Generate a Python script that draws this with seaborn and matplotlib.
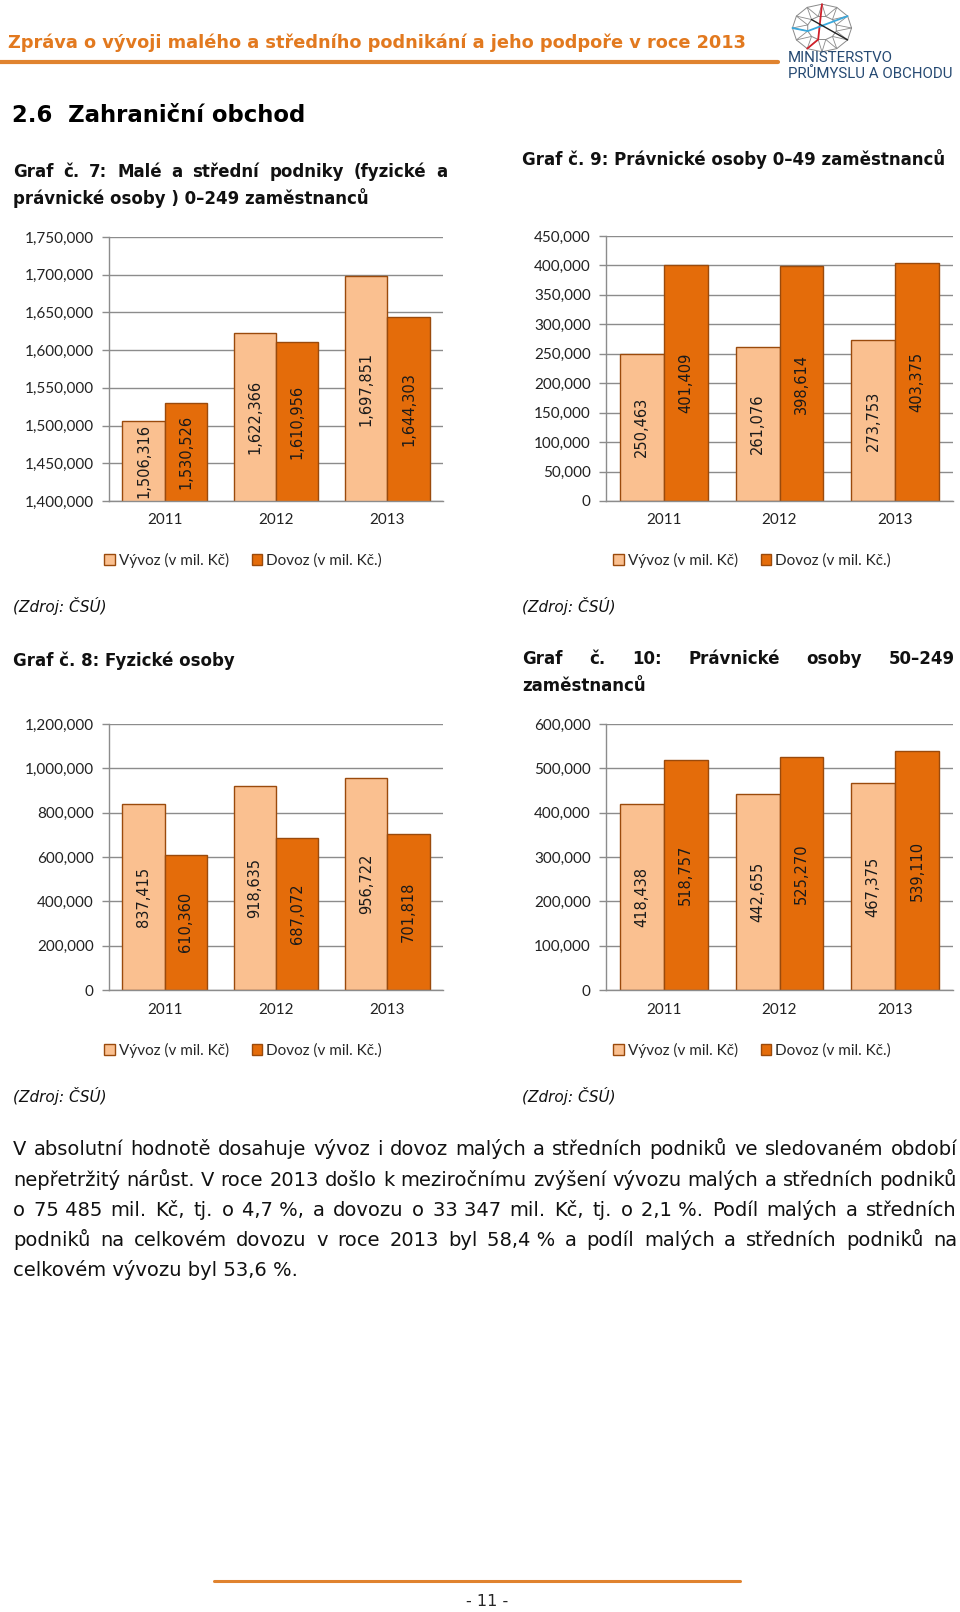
import numpy as np
import pandas as pd
import seaborn as sns
import matplotlib.pyplot as plt
from matplotlib.patches import Patch
from matplotlib.lines import Line2D
from matplotlib.ticker import FuncFormatter, MultipleLocator

W, H = 960, 1612

# data
years = ['2011', '2012', '2013']
series = ['Vývoz (v mil. Kč)', 'Dovoz (v mil. Kč.)']

vyvoz_g7 = [1506316, 1622366, 1697851]
dovoz_g7 = [1530526, 1610956, 1644303]
vyvoz_g8 = [837415, 918635, 956722]
dovoz_g8 = [610360, 687072, 701818]
vyvoz_g9 = [250463, 261076, 273753]
dovoz_g9 = [401409, 398614, 403375]
vyvoz_g10 = [418438, 442655, 467375]
dovoz_g10 = [518757, 525270, 539110]

body_lines = [
    'V absolutní hodnotě dosahuje vývoz i dovoz malých a středních podniků ve sledovaném období',
    'nepřetržitý nárůst. V roce 2013 došlo k meziročnímu zvýšení vývozu malých a středních podniků',
    'o 75\u00a0485 mil. Kč, tj. o 4,7\u00a0%, a dovozu o 33\u00a0347 mil. Kč, tj. o 2,1\u00a0%. Podíl malých a středních',
    'podniků na celkovém dovozu v roce 2013 byl 58,4\u00a0% a podíl malých a středních podniků na',
    'celkovém vývozu byl 53,6\u00a0%.',
]

sns.set_theme(style='white')
plt.rcParams['font.family'] = ['Lato', 'DejaVu Sans']

LIGHT = '#FAC090'
DARK = '#E46C0A'
EDGE = '#9A4A0C'
GRID = '#8C8C8C'
ORANGE = '#E2791F'
VERD = 'DejaVu Sans'

fig = plt.figure(figsize=(W / 100, H / 100), dpi=100)
renderer = fig.canvas.get_renderer()


def fx(x):
    return x / W


def fy(y):
    return 1 - y / H


def justify(line, x0, x1, y, **kw):
    # y = baseline v pixelech
    words = line.split(' ')
    texts = [fig.text(0, fy(y), w, va='baseline', ha='left', **kw) for w in words]
    widths = [t.get_window_extent(renderer).width for t in texts]
    gap = (x1 - x0 - sum(widths)) / (len(words) - 1)
    x = x0
    for t, w in zip(texts, widths):
        t.set_x(fx(x))
        x += w + gap


def chart(box, vyv, dov, ylim, step):
    x0, y0, x1, y1 = box
    ax = fig.add_axes([fx(x0), fy(y1), (x1 - x0) / W, (y1 - y0) / H])
    df = pd.DataFrame({'rok': years * 2,
                       'typ': [series[0]] * 3 + [series[1]] * 3,
                       'hodnota': vyv + dov})
    sns.barplot(data=df, x='rok', y='hodnota', hue='typ', palette=[LIGHT, DARK],
                saturation=1, edgecolor=EDGE, linewidth=1.0, width=0.76, gap=0,
                legend=False, ax=ax, zorder=2)
    ax.set_xlim(-0.5, 2.5)
    ax.set_ylim(*ylim)
    ax.set_xlabel('')
    ax.set_ylabel('')
    ax.yaxis.set_major_locator(MultipleLocator(step))
    ax.yaxis.set_major_formatter(FuncFormatter(lambda v, p: f'{v:,.0f}'))
    ax.grid(axis='y', color=GRID, lw=1.0)
    ax.set_axisbelow(True)
    for s in ['top', 'right']:
        ax.spines[s].set_visible(False)
    for s in ['left', 'bottom']:
        ax.spines[s].set_color(GRID)
        ax.spines[s].set_linewidth(1.0)
    ax.set_xticks([-0.5, 0.5, 1.5, 2.5], labels=[''] * 4)
    ax.set_xticks([0, 1, 2], labels=years, minor=True)
    ax.tick_params(axis='x', which='major', direction='out', length=5, width=1, color=GRID)
    ax.tick_params(axis='x', which='minor', length=0, pad=9, labelsize=11, labelcolor='#222222')
    ax.tick_params(axis='y', direction='out', length=5, width=1, color=GRID, pad=6,
                   labelsize=11, labelcolor='#222222', left=True)
    # popisky hodnot uprostred viditelne casti sloupce
    for bar in ax.patches:
        h = bar.get_height()
        if not np.isfinite(h) or h <= 0:
            continue
        lo = max(ylim[0], bar.get_y())
        ax.text(bar.get_x() + bar.get_width() / 2, (lo + bar.get_y() + h) / 2, f'{h:,.0f}',
                rotation=90, ha='center', va='center', fontsize=10.5, family=VERD,
                color='#1a1a1a', zorder=3)
    return ax


def legend(cx, cy):
    handles = [Patch(facecolor=LIGHT, edgecolor=EDGE, lw=1.0),
               Patch(facecolor=DARK, edgecolor=EDGE, lw=1.0)]
    fig.legend(handles, series, loc='center', bbox_to_anchor=(fx(cx), fy(cy)), ncol=2,
               frameon=False, fontsize=11, handlelength=0.7, handleheight=0.7,
               handletextpad=0.25, columnspacing=1.5, borderpad=0)


# header
fig.text(fx(8), fy(43), 'Zpráva o vývoji malého a středního podnikání a jeho podpoře v roce 2013',
         family=VERD, fontweight='bold', fontsize=12.8, color=ORANGE, va='center')
fig.add_artist(Line2D([fx(0), fx(778)], [fy(62), fy(62)], color='#E0832F', lw=3,
                      transform=fig.transFigure))

# logo
lax = fig.add_axes([fx(788), fy(53), 68 / W, 50 / H])
lax.set_xlim(-1.15, 1.15)
lax.set_ylim(-1.05, 1.05)
lax.axis('off')
ang = np.linspace(0, 2 * np.pi, 13)
ox, oy = np.cos(ang), np.sin(ang)
ix, iy = 0.5 * np.cos(ang + np.pi / 12), 0.5 * np.sin(ang + np.pi / 12)
lax.plot(ox, oy, color='#8a8a8a', lw=0.7)
lax.plot(ix, iy, color='#8a8a8a', lw=0.7)
for i in range(12):
    lax.plot([ox[i], ix[i]], [oy[i], iy[i]], color='#8a8a8a', lw=0.6)
    lax.plot([ox[i + 1], ix[i]], [oy[i + 1], iy[i]], color='#8a8a8a', lw=0.6)
lax.plot([ox[3], ix[8], ox[8]], [oy[3], iy[8], oy[8]], color='#D0202A', lw=1.3)
lax.plot([ox[1], ix[6], ox[6]], [oy[1], iy[6], oy[6]], color='#3AA8DC', lw=1.3)
lax.plot([ox[11], ix[4]], [oy[11], iy[4]], color='#222222', lw=1.0)
fig.text(fx(788), fy(58), 'MINISTERSTVO', family='Roboto', fontsize=10.8, color='#264A73', va='center')
fig.text(fx(788), fy(74), 'PRŮMYSLU A OBCHODU', family='Roboto', fontsize=10.8, color='#264A73', va='center')

fig.text(fx(12), fy(115), '2.6  Zahraniční obchod', family=VERD, fontweight='bold',
         fontsize=16.4, color='black', va='center')

# nadpisy grafu
tkw = dict(family=VERD, fontweight='bold', fontsize=12, color='#111111')
justify('Graf č. 7: Malé a střední podniky (fyzické a', 13, 447, 177, **tkw)
fig.text(fx(13), fy(198), 'právnické osoby ) 0–249 zaměstnanců', va='center', **tkw)
fig.text(fx(522), fy(159), 'Graf č. 9: Právnické osoby 0–49 zaměstnanců', va='center', **tkw)
fig.text(fx(13), fy(661), 'Graf č. 8: Fyzické osoby', va='center', **tkw)
justify('Graf č. 10: Právnické osoby 50–249', 522, 955, 664, **tkw)
fig.text(fx(522), fy(686), 'zaměstnanců', va='center', **tkw)

# grafy
chart((109, 237, 443, 501), vyvoz_g7, dovoz_g7, (1400000, 1750000), 50000)
chart((606, 236, 953, 501), vyvoz_g9, dovoz_g9, (0, 450000), 50000)
chart((109, 724, 443, 990), vyvoz_g8, dovoz_g8, (0, 1200000), 200000)
chart((606, 724, 953, 990), vyvoz_g10, dovoz_g10, (0, 600000), 100000)

legend(243, 560)
legend(752, 560)
legend(243, 1050)
legend(752, 1050)

zkw = dict(family=VERD, style='italic', fontsize=11, color='#111111', va='center')
fig.text(fx(13), fy(606), '(Zdroj: ČSÚ)', **zkw)
fig.text(fx(522), fy(606), '(Zdroj: ČSÚ)', **zkw)
fig.text(fx(13), fy(1096), '(Zdroj: ČSÚ)', **zkw)
fig.text(fx(522), fy(1096), '(Zdroj: ČSÚ)', **zkw)

# text
bkw = dict(family=VERD, fontsize=14, color='#111111')
line_y = [1155, 1186, 1216, 1246, 1276]
for i, (ln, yy) in enumerate(zip(body_lines, line_y)):
    if i < len(body_lines) - 1:
        justify(ln, 13, 957, yy, **bkw)
    else:
        fig.text(fx(13), fy(yy), ln, va='baseline', **bkw)

# paticka
fig.add_artist(Line2D([fx(214), fx(740)], [fy(1581), fy(1581)], color='#E0832F', lw=2.2,
                      transform=fig.transFigure))
fig.text(fx(487), fy(1601), '- 11 -', family=VERD, fontsize=11.5, ha='center', va='center')

fig.savefig('out.png', dpi=100, facecolor='white')
